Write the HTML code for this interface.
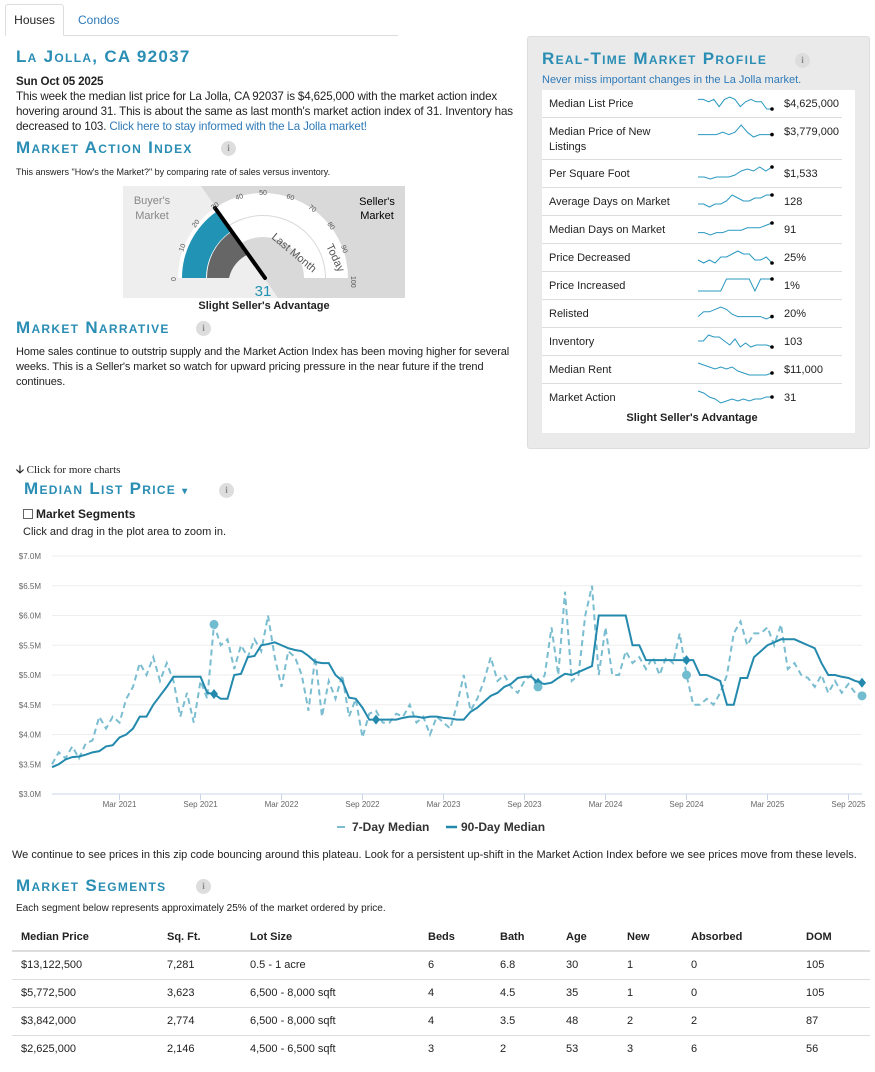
<!DOCTYPE html>
<html><head><meta charset="utf-8">
<style>
*{box-sizing:border-box}
body{margin:0;width:875px;height:1072px;position:relative;background:#fff;font-family:"Liberation Sans",sans-serif;font-size:12px;color:#222;overflow:hidden}
.abs{position:absolute}
.h{position:absolute;font-variant:small-caps;color:#2a8db4;font-size:17px;letter-spacing:1.3px;font-weight:bold;white-space:nowrap}
.info{position:absolute;width:15px;height:15px;border-radius:50%;background:#ddd;color:#888;font:bold 9px "Liberation Serif",serif;text-align:center;line-height:15px}
p{margin:0}
a{color:#2f7ab8;text-decoration:none}
.row{position:absolute;left:542px;width:300px;border-bottom:1px solid #ddd;font-size:11px}
.row .l{position:absolute;left:7px}
.row .v{position:absolute;left:242px}
table{border-collapse:collapse;font-size:11px}
</style></head><body>
<div class="abs" style="left:5px;top:35px;width:393px;border-top:1px solid #ddd"></div>
<div class="abs" style="left:5px;top:4px;width:59px;height:32px;border:1px solid #ddd;border-bottom:1px solid #fff;background:#fff;border-radius:3px 3px 0 0;text-align:center;line-height:30px;font-size:12px">Houses</div>
<div class="abs" style="left:78px;top:4px;line-height:32px;color:#2f7ab8;font-size:12px">Condos</div>

<div class="h" style="left:16px;top:47px">La Jolla, CA 92037</div>
<div class="abs" style="left:16px;top:74px;width:500px;line-height:15px;font-size:11.6px;letter-spacing:-0.15px">
<b>Sun Oct 05 2025</b><br>This week the median list price for La Jolla, CA 92037 is $4,625,000 with the market action index hovering around 31. This is about the same as last month's market action index of 31. Inventory has decreased to 103. <a>Click here to stay informed with the La Jolla market!</a></div>

<div class="h" style="left:16px;top:138px">Market Action Index</div>
<div class="info" style="left:221px;top:141px">i</div>
<div class="abs" style="left:16px;top:167px;font-size:9px">This answers "How's the Market?" by comparing rate of sales versus inventory.</div>

<svg class="abs" style="left:123px;top:186px" width="282" height="128" viewBox="0 0 282 128">
<polygon points="0,0 78,0 155,112 0,112" fill="#eeeeee"/>
<polygon points="78,0 282,0 282,112 155,112" fill="#d9d9d9"/>
<path d="M55 92 A85 85 0 0 1 225 92 L203 92 A63 63 0 0 0 77 92Z" fill="#fff"/>
<path d="M78 92 A62 62 0 0 1 202 92 L181 92 A41 41 0 0 0 99 92Z" fill="#fff"/>
<path d="M59 92 A81 81 0 0 1 93 26 L107 46 A57 57 0 0 0 83 92Z" fill="#2193b4"/>
<path d="M84 92 A56 56 0 0 1 108 46 L126 68 A34 34 0 0 0 106 92Z" fill="#666"/>
<line x1="92" y1="22" x2="142" y2="92" stroke="#000" stroke-width="4" stroke-linecap="round"/>
<text x="140" y="110" fill="#2193b4" font-size="15" text-anchor="middle">31</text>
<text x="29" y="18" fill="#888" font-size="11" text-anchor="middle">Buyer's</text>
<text x="29" y="33" fill="#888" font-size="11" text-anchor="middle">Market</text>
<text x="254" y="19" fill="#000" font-size="11" text-anchor="middle">Seller's</text>
<text x="254" y="33" fill="#000" font-size="11" text-anchor="middle">Market</text>
<text x="53" y="95" font-size="7" fill="#555" transform="rotate(-90 53 95)">0</text>
<text x="60" y="66" font-size="7" fill="#555" transform="rotate(-70 60 66)">10</text>
<text x="72" y="42" font-size="7" fill="#555" transform="rotate(-50 72 42)">20</text>
<text x="90" y="24" font-size="7" fill="#555" transform="rotate(-35 90 24)">30</text>
<text x="113" y="14" font-size="7" fill="#555" transform="rotate(-15 113 14)">40</text>
<text x="140" y="9" font-size="7" fill="#555" text-anchor="middle">50</text>
<text x="163" y="12" font-size="7" fill="#555" transform="rotate(18 163 12)">60</text>
<text x="185" y="22" font-size="7" fill="#555" transform="rotate(36 185 22)">70</text>
<text x="204" y="38" font-size="7" fill="#555" transform="rotate(54 204 38)">80</text>
<text x="218" y="60" font-size="7" fill="#555" transform="rotate(72 218 60)">90</text>
<text x="228" y="90" font-size="7" fill="#555" transform="rotate(90 228 90)">100</text>
<text x="148" y="52" font-size="11" fill="#555" transform="rotate(40 148 52)">Last Month</text>
<text x="203" y="60" font-size="11" fill="#555" transform="rotate(65 203 60)">Today</text>
</svg>
<div class="abs" style="left:123px;top:300px;width:282px;text-align:center;font-weight:bold;font-size:11px">Slight Seller's Advantage</div>

<div class="h" style="left:16px;top:318px">Market Narrative</div>
<div class="info" style="left:196px;top:321px">i</div>
<div class="abs" style="left:16px;top:345px;width:495px;line-height:15px;font-size:11px;letter-spacing:-0.1px">Home sales continue to outstrip supply and the Market Action Index has been moving higher for several weeks. This is a Seller's market so watch for upward pricing pressure in the near future if the trend continues.</div>

<div class="abs" style="left:527px;top:36px;width:343px;height:413px;background:#eaeaea;border:1px solid #ddd;border-radius:3px"></div>
<div class="abs" style="left:542px;top:90px;width:313px;height:343px;background:#fff"></div>
<div class="h" style="left:542px;top:49px">Real-Time Market Profile</div>
<div class="info" style="left:795px;top:53px">i</div>
<div class="abs" style="left:542px;top:74px;color:#2f7ab8;font-size:11px">Never miss important changes in the La Jolla market.</div>
<div id="rows"></div>
<div class="abs" style="left:542px;top:412px;width:300px;text-align:center;font-weight:bold;font-size:11px">Slight Seller's Advantage</div>

<div class="abs" style="left:16px;top:461px;font-family:'Liberation Serif',serif;font-size:11px"><b>&#129123;</b> Click for more charts</div>
<div class="h" style="left:24px;top:479px">Median List Price <span style="font-size:10px">&#9662;</span></div>
<div class="info" style="left:219px;top:483px">i</div>
<div class="abs" style="left:23px;top:507px;font-weight:bold;font-size:12px"><span style="display:inline-block;width:10px;height:10px;border:1px solid #666;vertical-align:-1px;margin-right:3px"></span>Market Segments</div>
<div class="abs" style="left:23px;top:526px;font-size:11px">Click and drag in the plot area to zoom in.</div>

<svg id="chart" class="abs" style="left:0;top:540px" width="875" height="300"></svg>

<div class="abs" style="left:12px;top:849px;font-size:11px">We continue to see prices in this zip code bouncing around this plateau. Look for a persistent up-shift in the Market Action Index before we see prices move from these levels.</div>

<div class="h" style="left:16px;top:876px">Market Segments</div>
<div class="info" style="left:196px;top:879px">i</div>
<div class="abs" style="left:16px;top:903px;font-size:10px">Each segment below represents approximately 25% of the market ordered by price.</div>
<div id="seg" class="abs" style="left:12px;top:923px;width:858px"></div>

<script>
const NS='http://www.w3.org/2000/svg';
const profileLabels=['Median List Price','Median Price of New Listings','Per Square Foot','Average Days on Market','Median Days on Market','Price Decreased','Price Increased','Relisted','Inventory','Median Rent','Market Action'];
const profileValues=['$4,625,000','$3,779,000','$1,533','128','91','25%','1%','20%','103','$11,000','31'];
const spark=[
[6,6,5,6,3,6,7,6,3,5,6,5,5,2,2],
[4,4,4,4,5,4,5,8,5,3,4,4,4],
[2,2,1,2,2,2,3,5,6,5,7,5,7],
[4,4,3,4,4,5,7,6,5,5,6,6,7,7],
[2,2,1,2,2,3,3,3,4,4,4,5,6],
[4,3,4,3,5,5,6,7,6,6,4,4,5,3],
[1,1,1,1,1,8,8,8,8,8,1,8,8,8],
[3,5,5,6,7,6,4,3,3,3,3,3,2,3],
[5,5,8,7,7,5,3,6,2,4,2,3,3,3,2],
[8,7,6,5,6,5,6,4,3,2,2,2,2,3],
[7,6,4,3,1,2,3,2,3,2,3,3,4,4]];
const rowsEl=document.getElementById('rows');
let y=90;
profileLabels.forEach((lab,i)=>{
  const h=(i===1)?42:28;
  const r=document.createElement('div');
  r.className='row';
  
  
  r.style.top=y+'px';r.style.height=h+'px';
  if(i===profileLabels.length-1) r.style.borderBottom='none';
  const l=document.createElement('div');l.className='l';l.style.top='7px';l.style.width='140px';l.style.lineHeight='15px';l.textContent=lab;
  const v=document.createElement('div');v.className='v';v.style.top='7px';v.style.lineHeight='15px';v.textContent=profileValues[i];
  r.appendChild(l);r.appendChild(v);
  const s=document.createElementNS(NS,'svg');s.setAttribute('width','80');s.setAttribute('height','16');
  s.style.position='absolute';s.style.left='154px';s.style.top='5px';
  
  
  const d=spark[i];const mx=Math.max(...d),mn=Math.min(...d);
  const pts=d.map((val,k)=>[2+k*74/(d.length-1),14-(val-mn)/(mx-mn||1)*12]);
  const pl=document.createElementNS(NS,'polyline');
  pl.setAttribute('points',pts.map(p=>p.join(',')).join(' '));
  pl.setAttribute('fill','none');pl.setAttribute('stroke','#2a98c0');pl.setAttribute('stroke-width','1');
  s.appendChild(pl);
  const c=document.createElementNS(NS,'circle');const lp=pts[pts.length-1];
  c.setAttribute('cx',lp[0]);c.setAttribute('cy',lp[1]);c.setAttribute('r','1.8');c.setAttribute('fill','#000');
  s.appendChild(c);
  r.appendChild(s);
  rowsEl.appendChild(r);
  y+=h;
});

const yTicks=[3.0,3.5,4.0,4.5,5.0,5.5,6.0,6.5,7.0];
const xTickLabels=['Mar 2021','Sep 2021','Mar 2022','Sep 2022','Mar 2023','Sep 2023','Mar 2024','Sep 2024','Mar 2025','Sep 2025'];
const xTickMonths=[5,11,17,23,29,35,41,47,53,59];
const median90=[3.45,3.5,3.58,3.62,3.63,3.66,3.7,3.72,3.8,3.82,3.95,4.0,4.1,4.3,4.3,4.5,4.65,4.8,4.97,4.97,4.97,4.97,4.97,4.7,4.68,4.6,4.6,5.0,5.02,5.3,5.32,5.5,5.52,5.55,5.5,5.45,5.42,5.4,5.32,5.22,5.2,5.2,5.0,4.9,4.62,4.6,4.45,4.25,4.25,4.25,4.25,4.25,4.28,4.3,4.3,4.28,4.3,4.3,4.28,4.27,4.25,4.25,4.38,4.45,4.55,4.65,4.7,4.8,4.85,4.95,4.97,4.97,4.87,4.85,4.87,4.95,5.02,5.0,5.05,5.1,5.15,6.0,6.0,6.0,6.0,6.0,5.5,5.5,5.25,5.25,5.25,5.25,5.25,5.25,5.25,5.25,5.0,5.0,4.95,4.9,4.5,4.5,4.95,4.95,5.3,5.4,5.5,5.55,5.6,5.6,5.6,5.55,5.5,5.45,5.2,5.0,5.0,4.97,4.95,4.9,4.87];
const median7=[3.5,3.7,3.6,3.8,3.6,3.85,3.9,4.3,4.1,4.3,4.2,4.6,4.8,5.2,5.0,5.3,4.9,5.2,4.9,4.3,4.7,4.2,4.9,4.6,5.85,5.5,5.6,5.1,5.5,5.3,5.6,5.4,6.0,5.3,4.8,5.4,5.3,5.0,4.4,5.3,4.3,4.9,4.6,5.0,4.3,4.6,3.95,4.35,4.4,4.2,4.2,4.35,4.3,4.5,4.2,4.3,4.0,4.3,4.2,4.1,4.5,5.0,4.4,4.6,4.9,5.3,4.9,5.0,4.8,4.7,4.9,5.0,4.8,5.0,5.8,5.0,6.4,4.9,5.0,6.0,6.5,5.0,5.8,5.0,5.0,5.4,5.2,5.3,5.1,5.3,5.0,5.3,5.2,5.7,5.0,4.5,4.5,4.6,4.5,4.7,5.0,5.7,5.9,5.5,5.7,5.7,5.8,5.5,5.85,5.1,5.2,5.0,4.95,4.8,5.0,4.7,4.9,4.7,4.85,4.7,4.65];
const diamondIdx=[24,48,72,94,120];
const circleIdx=[24,72,94,120];
const svg=document.getElementById('chart');
const X0=52,X1=862,totalMonths=60;
const xs=m=>X0+m*(X1-X0)/totalMonths;
const ys=v=>254-(v-3.0)*(254-16)/4.0;
yTicks.forEach(v=>{
  const g=document.createElementNS(NS,'line');
  g.setAttribute('x1',X0);g.setAttribute('x2',X1);g.setAttribute('y1',ys(v));g.setAttribute('y2',ys(v));
  g.setAttribute('stroke',v===3.0?'#ccd6eb':'#eee');g.setAttribute('stroke-width','1');
  
  
  svg.appendChild(g);
  const t=document.createElementNS(NS,'text');
  t.setAttribute('x',41);t.setAttribute('y',ys(v)+3);t.setAttribute('text-anchor','end');t.setAttribute('font-size','8');t.setAttribute('fill','#666');
  t.textContent='$'+v.toFixed(1)+'M';
  
  
  svg.appendChild(t);
});
xTickMonths.forEach((m,i)=>{
  const tk=document.createElementNS(NS,'line');
  tk.setAttribute('x1',xs(m));tk.setAttribute('x2',xs(m));tk.setAttribute('y1',254);tk.setAttribute('y2',260);tk.setAttribute('stroke','#ccd6eb');
  
  
  svg.appendChild(tk);
  const t=document.createElementNS(NS,'text');
  t.setAttribute('x',xs(m));t.setAttribute('y',267);t.setAttribute('text-anchor','middle');t.setAttribute('font-size','8');t.setAttribute('fill','#666');
  t.textContent=xTickLabels[i];
  
  
  svg.appendChild(t);
});
const p7=median7.map((v,i)=>xs(i/2)+','+ys(v)).join(' ');
const l7=document.createElementNS(NS,'polyline');
l7.setAttribute('points',p7);l7.setAttribute('fill','none');l7.setAttribute('stroke','#7bbdd0');l7.setAttribute('stroke-width','2');l7.setAttribute('stroke-dasharray','6,4');


svg.appendChild(l7);
const p90=median90.map((v,i)=>xs(i/2)+','+ys(v)).join(' ');
const l90=document.createElementNS(NS,'polyline');
l90.setAttribute('points',p90);l90.setAttribute('fill','none');l90.setAttribute('stroke','#2389ad');l90.setAttribute('stroke-width','2');


svg.appendChild(l90);
diamondIdx.forEach(i=>{
  const cx=xs(i/2),cy=ys(median90[i]);
  const d=document.createElementNS(NS,'polygon');
  d.setAttribute('points',`${cx},${cy-5} ${cx+4},${cy} ${cx},${cy+5} ${cx-4},${cy}`);d.setAttribute('fill','#2389ad');
  
  
  svg.appendChild(d);
});
circleIdx.forEach(i=>{
  const c=document.createElementNS(NS,'circle');
  c.setAttribute('cx',xs(i/2));c.setAttribute('cy',ys(median7[i]));c.setAttribute('r','4.5');c.setAttribute('fill','#72bcd0');
  
  
  svg.appendChild(c);
});
const lg=document.createElementNS(NS,'g');


lg.innerHTML='<line x1="337" x2="345" y1="287" y2="287" stroke="#7bbdd0" stroke-width="2"/><text x="352" y="291" font-size="12" font-weight="bold" fill="#333">7-Day Median</text><line x1="446" x2="457" y1="287" y2="287" stroke="#2389ad" stroke-width="2.5"/><text x="461" y="291" font-size="12" font-weight="bold" fill="#333">90-Day Median</text>';
svg.appendChild(lg);

const segHeaders=['Median Price','Sq. Ft.','Lot Size','Beds','Bath','Age','New','Absorbed','DOM'];
const segRows=[
['$13,122,500','7,281','0.5 - 1 acre','6','6.8','30','1','0','105'],
['$5,772,500','3,623','6,500 - 8,000 sqft','4','4.5','35','1','0','105'],
['$3,842,000','2,774','6,500 - 8,000 sqft','4','3.5','48','2','2','87'],
['$2,625,000','2,146','4,500 - 6,500 sqft','3','2','53','3','6','56']];
const colW=[146,83,178,72,66,61,64,115,73];
const tb=document.createElement('table');


tb.style.width='858px';
const mk=(cells,bold,top)=>{const tr=document.createElement('tr');cells.forEach((c,i)=>{const td=document.createElement('td');td.textContent=c;td.style.width=colW[i]+'px';td.style.height='28px';td.style.padding='0 0 0 9px';if(bold)td.style.fontWeight='bold';td.style.borderTop=top;tr.appendChild(td);});return tr;};
tb.appendChild(mk(segHeaders,true,'none'));
segRows.forEach((r,i)=>{const tr=mk(r,false,(i===0?'2px':'1px')+' solid #ddd');tb.appendChild(tr);});
document.getElementById('seg').appendChild(tb);
</script>
</body></html>
